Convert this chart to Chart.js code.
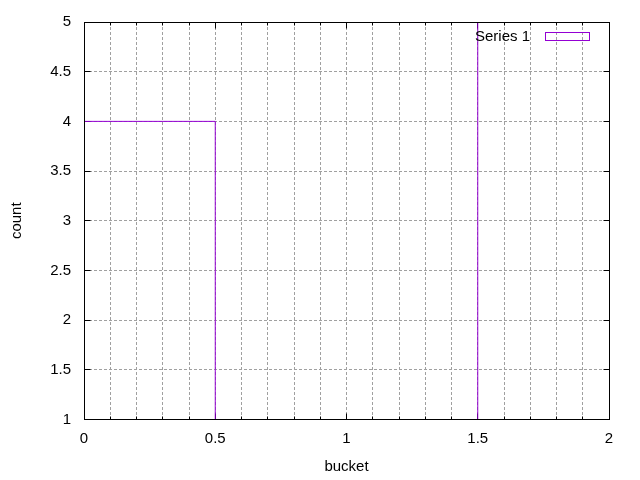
<!DOCTYPE html>
<html>
<head>
<meta charset="utf-8">
<script src="https://cdn.jsdelivr.net/npm/chart.js@4"></script>
<style>
  html, body { margin: 0; padding: 0; background: #fff; }
  #wrap { width: 640px; height: 480px; }
</style>
</head>
<body>
<div id="wrap"><canvas id="histChart" width="640" height="480"></canvas></div>
<script>
const buckets = [0, 1, 2];
const counts = [4, 1, 5];
const seriesName = 'Series 1';

const purple = '#9400d3';
const gridGray = '#a0a0a0';
const fontFamily = '"Liberation Sans", Arial, sans-serif';

function isMajor(v) {
    return Math.abs(v * 2 - Math.round(v * 2)) < 1e-6;
}

// same 1px alignment chart.js uses for grid lines
function align(p) {
    return Math.round(p - 0.5) + 0.5;
}

// gnuplot style inward tics (under the boxes), frame and key (on top)
const gnuplotFrame = {
    id: 'gnuplotFrame',
    beforeDatasetsDraw(chart) {
        const { ctx, chartArea: a, scales } = chart;
        const top = Math.floor(a.top) + 0.5, bottom = Math.floor(a.bottom) + 0.5;
        const left = a.left + 0.5, right = a.right + 0.5;
        ctx.save();
        ctx.strokeStyle = '#000';
        ctx.lineWidth = 1;
        ctx.beginPath();
        scales.x.ticks.forEach(t => {
            const px = align(scales.x.getPixelForValue(t.value));
            const len = isMajor(t.value) ? 6 : 3;
            ctx.moveTo(px, bottom); ctx.lineTo(px, bottom - len);
            ctx.moveTo(px, top); ctx.lineTo(px, top + len);
        });
        scales.y.ticks.forEach(t => {
            const py = align(scales.y.getPixelForValue(t.value));
            ctx.moveTo(left, py); ctx.lineTo(left + 6, py);
            ctx.moveTo(right, py); ctx.lineTo(right - 6, py);
        });
        ctx.stroke();
        ctx.restore();
    },
    afterDraw(chart) {
        const { ctx, chartArea: a } = chart;
        const top = Math.floor(a.top) + 0.5, bottom = Math.floor(a.bottom) + 0.5;
        const left = a.left + 0.5, right = a.right + 0.5;
        ctx.save();
        ctx.strokeStyle = '#000';
        ctx.lineWidth = 1;
        ctx.strokeRect(left, top, right - left, bottom - top);

        // key
        ctx.font = '15px ' + fontFamily;
        ctx.fillStyle = '#000';
        ctx.textAlign = 'right';
        ctx.textBaseline = 'middle';
        ctx.fillText(seriesName, a.right - 79, top + 14);
        ctx.strokeStyle = purple;
        ctx.strokeRect(a.right - 63.5, top + 10, 44, 8);
        ctx.restore();
    }
};

const ctx = document.getElementById('histChart').getContext('2d');
const histChart = new Chart(ctx, {
    type: 'line',
    data: {
        datasets: [{
            label: seriesName,
            data: buckets.map((b, i) => ({ x: b, y: counts[i] })),
            stepped: 'middle',
            clip: 0,
            borderColor: purple,
            borderWidth: 1,
            pointRadius: 0,
            fill: false
        }]
    },
    options: {
        responsive: false,
        animation: false,
        layout: { padding: { left: 0, right: 31, top: 19.5, bottom: 0 } },
        plugins: {
            legend: { display: false },
            tooltip: { enabled: false }
        },
        scales: {
            x: {
                type: 'linear',
                min: 0,
                max: 2,
                grid: {
                    color: gridGray,
                    drawTicks: false
                },
                border: { display: false, dash: [3, 2] },
                ticks: {
                    stepSize: 0.1,
                    autoSkip: false,
                    maxRotation: 0,
                    padding: 10,
                    color: '#000',
                    font: { family: fontFamily, size: 15 },
                    callback: v => isMajor(v) ? String(Math.round(v * 2) / 2) : ''
                },
                title: {
                    display: true,
                    text: 'bucket',
                    color: '#000',
                    font: { family: fontFamily, size: 15 },
                    padding: { top: 4, bottom: 4 }
                },
                afterFit: s => { s.height = 60.5; }
            },
            y: {
                min: 1,
                max: 5,
                grid: {
                    color: gridGray,
                    drawTicks: false
                },
                border: { display: false, dash: [3, 2] },
                ticks: {
                    stepSize: 0.5,
                    padding: 13,
                    color: '#000',
                    font: { family: fontFamily, size: 15 },
                    callback: v => String(v)
                },
                title: {
                    display: true,
                    text: 'count',
                    color: '#000',
                    font: { family: fontFamily, size: 15 },
                    padding: { top: 8, bottom: 0 }
                },
                afterFit: s => { s.width = 84; }
            }
        }
    },
    plugins: [gnuplotFrame]
});
</script>
</body>
</html>
